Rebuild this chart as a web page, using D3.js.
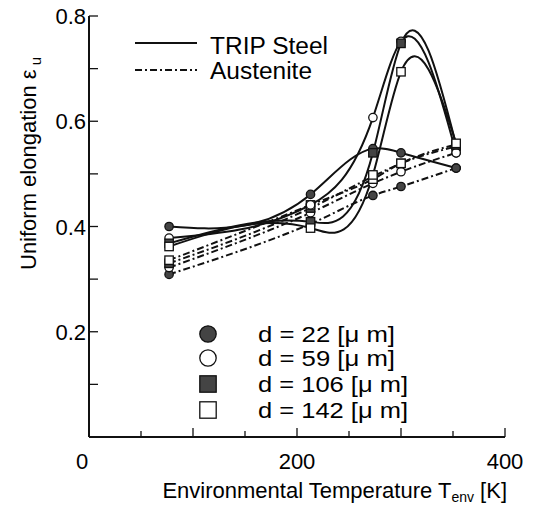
<!DOCTYPE html>
<html><head><meta charset="utf-8">
<script src="https://cdn.jsdelivr.net/npm/d3@7"></script>
<style>body{margin:0;background:#fff}svg{display:block}text{font-family:"Liberation Sans",Arial,sans-serif;fill:#000}</style>
</head><body><svg id="c" width="539" height="508"></svg>
<script>
const temps = [77, 213, 273, 300, 353];
const sizes = ["22", "59", "106", "142"];
const tripValues = [
  [0.400, 0.461, 0.548, 0.540, 0.511],
  [0.378, 0.441, 0.607, 0.752, 0.540],
  [0.368, 0.409, 0.540, 0.748, 0.555],
  [0.362, 0.397, 0.498, 0.694, 0.558]
];
const austValues = [
  [0.309, 0.405, 0.459, 0.476, 0.511],
  [0.322, 0.426, 0.482, 0.504, 0.540],
  [0.330, 0.435, 0.495, 0.520, 0.552],
  [0.336, 0.441, 0.490, 0.520, 0.556]
];
const xTicks = [0, 200, 400];
const yTicks = [0.2, 0.4, 0.6, 0.8];

// natural cubic spline y(x) as a d3 curve factory
function curveNaturalX(context) {
  let xs = [], ys = [];
  return {
    areaStart() {}, areaEnd() {},
    lineStart() { xs = []; ys = []; },
    point(px, py) { xs.push(+px); ys.push(+py); },
    lineEnd() {
      const n = xs.length;
      if (!n) return;
      context.moveTo(xs[0], ys[0]);
      if (n === 2) { context.lineTo(xs[1], ys[1]); return; }
      const h = [];
      for (let i = 0; i < n - 1; i++) h[i] = xs[i + 1] - xs[i];
      const M = new Array(n).fill(0);
      const m = n - 2, a = [], b = [], c = [], d = [];
      for (let i = 1; i <= m; i++) {
        a.push(h[i - 1]); b.push(2 * (h[i - 1] + h[i])); c.push(h[i]);
        d.push(6 * ((ys[i + 1] - ys[i]) / h[i] - (ys[i] - ys[i - 1]) / h[i - 1]));
      }
      for (let i = 1; i < m; i++) {
        const w = a[i] / b[i - 1];
        b[i] -= w * c[i - 1]; d[i] -= w * d[i - 1];
      }
      const sol = new Array(m);
      sol[m - 1] = d[m - 1] / b[m - 1];
      for (let i = m - 2; i >= 0; i--) sol[i] = (d[i] - c[i] * sol[i + 1]) / b[i];
      for (let i = 1; i <= m; i++) M[i] = sol[i - 1];
      const sl = [];
      for (let i = 0; i < n - 1; i++) sl[i] = (ys[i + 1] - ys[i]) / h[i] - h[i] * (2 * M[i] + M[i + 1]) / 6;
      sl[n - 1] = (ys[n - 1] - ys[n - 2]) / h[n - 2] + h[n - 2] * (M[n - 2] + 2 * M[n - 1]) / 6;
      for (let i = 0; i < n - 1; i++) {
        const k = h[i] / 3;
        context.bezierCurveTo(xs[i] + k, ys[i] + sl[i] * k, xs[i + 1] - k, ys[i + 1] - sl[i + 1] * k, xs[i + 1], ys[i + 1]);
      }
    }
  };
}

const svg = d3.select("#c");
const x = d3.scaleLinear().domain([0, 400]).range([89, 505]);
const y = d3.scaleLinear().domain([0, 0.8]).range([437, 16]);
const ink = "#111";

// axes
svg.append("line").attr("x1", x(0)).attr("x2", x(400)).attr("y1", y(0)).attr("y2", y(0)).attr("stroke", ink).attr("stroke-width", 2);
svg.append("line").attr("x1", x(0)).attr("x2", x(0)).attr("y1", y(0)).attr("y2", y(0.8)).attr("stroke", ink).attr("stroke-width", 2);
d3.range(50, 401, 50).forEach(t => {
  svg.append("line").attr("x1", x(t)).attr("x2", x(t)).attr("y1", y(0)).attr("y2", y(0) - (t % 100 === 0 ? 9 : 6)).attr("stroke", ink).attr("stroke-width", 1.3);
});
d3.range(1, 9).forEach(i => {
  const v = i / 10;
  svg.append("line").attr("x1", x(0)).attr("x2", x(0) + 9).attr("y1", y(v)).attr("y2", y(v)).attr("stroke", ink).attr("stroke-width", 1.3);
});
xTicks.forEach(t => {
  svg.append("text").attr("x", t === 0 ? x(t) - 7 : x(t)).attr("y", 469).attr("text-anchor", "middle").attr("font-size", 22).text(t);
});
yTicks.forEach(v => {
  svg.append("text").attr("x", 86).attr("y", y(v) + 8).attr("text-anchor", "end").attr("font-size", 22).text(d3.format(".1f")(v));
});

// axis titles
const xt = svg.append("text").attr("x", 507).attr("y", 498).attr("text-anchor", "end").attr("font-size", 22);
xt.append("tspan").text("Environmental Temperature T");
xt.append("tspan").attr("font-size", 14).attr("dy", 4).text("env");
xt.append("tspan").attr("dy", -4).text(" [K]");

const yt = svg.append("text").attr("transform", "translate(36,270) rotate(-90)").attr("font-size", 22);
yt.append("tspan").text("Uniform elongation  ε");
yt.append("tspan").attr("font-size", 15).attr("dy", 5).text(" u");

// lines
const lineTrip = d3.line().x((d, i) => x(temps[i])).y(d => y(d)).curve(curveNaturalX);
const lineAust = d3.line().x((d, i) => x(temps[i])).y(d => y(d)).curve(d3.curveMonotoneX);
austValues.forEach(vals => {
  svg.append("path").attr("d", lineAust(vals)).attr("fill", "none").attr("stroke", ink).attr("stroke-width", 2).attr("stroke-dasharray", "7,3,2,3");
});
tripValues.forEach(vals => {
  svg.append("path").attr("d", lineTrip(vals)).attr("fill", "none").attr("stroke", ink).attr("stroke-width", 2);
});

// markers
function marker(g, k, cx, cy, r) {
  if (k === 0 || k === 1) {
    g.append("circle").attr("cx", cx).attr("cy", cy).attr("r", r)
      .attr("fill", k === 0 ? "#444" : "#fff").attr("stroke", ink).attr("stroke-width", 1.3);
  } else {
    g.append("rect").attr("x", cx - r).attr("y", cy - r).attr("width", 2 * r).attr("height", 2 * r)
      .attr("fill", k === 2 ? "#444" : "#fff").attr("stroke", ink).attr("stroke-width", 1.3);
  }
}
const mg = svg.append("g");
[austValues, tripValues].forEach(set => {
  set.forEach((vals, k) => {
    vals.forEach((v, i) => marker(mg, k, x(temps[i]), y(v), 4.2));
  });
});

// legends
svg.append("line").attr("x1", 135).attr("x2", 197).attr("y1", 43).attr("y2", 43).attr("stroke", ink).attr("stroke-width", 2);
svg.append("line").attr("x1", 135).attr("x2", 197).attr("y1", 70).attr("y2", 70).attr("stroke", ink).attr("stroke-width", 2).attr("stroke-dasharray", "7,3,2,3");
svg.append("text").attr("x", 210).attr("y", 54).attr("font-size", 23).attr("textLength", 118).attr("lengthAdjust", "spacingAndGlyphs").text("TRIP Steel");
svg.append("text").attr("x", 210).attr("y", 79).attr("font-size", 23).attr("textLength", 102).attr("lengthAdjust", "spacingAndGlyphs").text("Austenite");
const legY = [334, 358, 384, 410];
sizes.forEach((s, k) => {
  marker(svg, k, 208, legY[k], 8.2);
  svg.append("text").attr("x", 258).attr("y", legY[k] + 8).attr("font-size", 22)
    .attr("textLength", s.length === 2 ? 137 : 150).attr("lengthAdjust", "spacingAndGlyphs")
    .text("d = " + s + " [μ m]");
});
</script></body></html>
